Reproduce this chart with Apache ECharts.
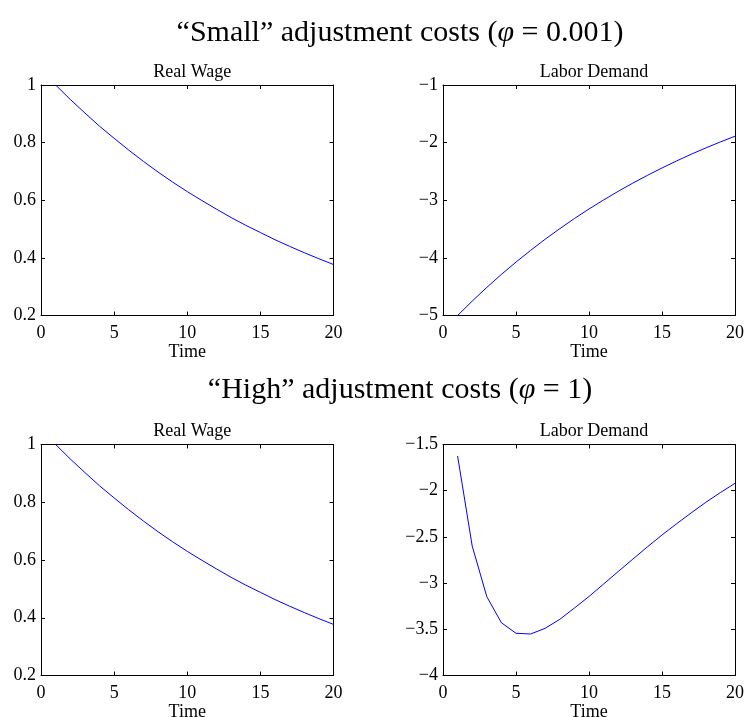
<!DOCTYPE html>
<html>
<head>
<meta charset="utf-8">
<script src="https://cdn.jsdelivr.net/npm/echarts@6/dist/echarts.min.js"></script>
<style>
  html, body { margin: 0; padding: 0; background: #fff; }
  #chart { width: 746px; height: 717px; }
</style>
</head>
<body>
<div id="chart"></div>
<script>
// Impulse responses over 20 periods
const time = [1,2,3,4,5,6,7,8,9,10,11,12,13,14,15,16,17,18,19,20];

// "Small" adjustment costs
const wageSmall = [1.000,0.950,0.903,0.857,0.815,0.774,0.735,0.698,0.663,0.630,
                   0.599,0.569,0.540,0.513,0.488,0.463,0.440,0.418,0.397,0.377];
const laborSmall = [-5.000,-4.750,-4.513,-4.287,-4.073,-3.870,-3.676,-3.493,-3.318,-3.152,
                    -2.995,-2.845,-2.703,-2.568,-2.440,-2.318,-2.202,-2.092,-1.988,-1.889];

// "High" adjustment costs
const wageHigh = [1.000,0.950,0.903,0.857,0.815,0.774,0.735,0.698,0.663,0.630,
                  0.599,0.569,0.540,0.513,0.488,0.463,0.440,0.418,0.397,0.377];
const laborHigh = [-1.624,-2.598,-3.147,-3.429,-3.543,-3.551,-3.489,-3.392,-3.270,-3.145,
                   -3.010,-2.875,-2.741,-2.608,-2.479,-2.358,-2.240,-2.126,-2.020,-1.920];

const xTicks = [0, 20, 5];            // min, max, interval
const panelTitles = ['Real Wage', 'Labor Demand'];
const rowTitles = ['\u201cSmall\u201d adjustment costs (', '\u201cHigh\u201d adjustment costs ('];
const rowParams = ['= 0.001)', '= 1)'];

const SERIF = '"Liberation Serif", "Times New Roman", serif';

const gridBoxes = [
  { left: 41,  top: 85,    width: 292.5, height: 230.5 },
  { left: 443, top: 85,    width: 292,   height: 230.5 },
  { left: 41,  top: 444.5, width: 292.5, height: 231 },
  { left: 443, top: 444.5, width: 292,   height: 231 }
];
const grids = gridBoxes.map(b => Object.assign({ containLabel: false, outerBoundsMode: 'none' }, b));
const yRanges = [
  { min: 0.2, max: 1,    interval: 0.2 },
  { min: -5,  max: -1,   interval: 1 },
  { min: 0.2, max: 1,    interval: 0.2 },
  { min: -4,  max: -1.5, interval: 0.5 }
];
const seriesValues = [wageSmall, laborSmall, wageHigh, laborHigh];

const minusFmt = v => {
  let s = String(Math.round(v * 1000) / 1000);
  return s.replace('-', '\u2212');
};

const xAxes = [], yAxes = [], series = [];
gridBoxes.forEach((g, i) => {
  const common = {
    gridIndex: i, type: 'value', min: xTicks[0], max: xTicks[1], interval: xTicks[2],
    axisLine: { show: true, onZero: false, lineStyle: { color: '#000', width: 1 } },
    axisTick: { show: true, inside: true, length: 4, lineStyle: { color: '#000' } },
    splitLine: { show: false }
  };
  xAxes.push(Object.assign({}, common, {
    position: 'bottom',
    name: 'Time', nameLocation: 'middle', nameGap: 27,
    nameTextStyle: { fontFamily: SERIF, fontSize: 18, color: '#000' },
    axisLabel: { fontFamily: SERIF, fontSize: 18, color: '#000', margin: 9, formatter: minusFmt }
  }));
  xAxes.push(Object.assign({}, common, { position: 'top', axisLabel: { show: false } }));
  const yc = {
    gridIndex: i, type: 'value', min: yRanges[i].min, max: yRanges[i].max, interval: yRanges[i].interval,
    axisLine: { show: true, onZero: false, lineStyle: { color: '#000', width: 1 } },
    axisTick: { show: true, inside: true, length: 4, lineStyle: { color: '#000' } },
    splitLine: { show: false }
  };
  yAxes.push(Object.assign({}, yc, {
    position: 'left',
    axisLabel: { fontFamily: SERIF, fontSize: 18, color: '#000', margin: 5, formatter: minusFmt }
  }));
  yAxes.push(Object.assign({}, yc, { position: 'right', axisLabel: { show: false } }));
  series.push({
    type: 'line', xAxisIndex: 2 * i, yAxisIndex: 2 * i,
    data: time.map((t, k) => [t, seriesValues[i][k]]),
    showSymbol: false, symbol: 'none', silent: true,
    lineStyle: { color: '#0000ff', width: 1 }
  });
});

const titles = [];
[28, 385].forEach((y, r) => {
  titles.push({
    text: '{n|' + rowTitles[r] + '}{p|\u03c6}{n| ' + rowParams[r] + '}',
    left: 395, top: y, textAlign: 'center', textVerticalAlign: 'middle',
    textStyle: {
      fontWeight: 'normal',
      rich: {
        n: { fontFamily: SERIF, fontSize: 30, fontWeight: 'normal', color: '#000' },
        p: { fontFamily: SERIF, fontSize: 30, fontWeight: 'normal', fontStyle: 'italic', color: '#000' }
      }
    }
  });
});
gridBoxes.forEach((g, i) => {
  titles.push({
    text: panelTitles[i % 2],
    left: g.left + g.width / 2, top: g.top - 18, textAlign: 'center', textVerticalAlign: 'middle',
    textStyle: { fontFamily: SERIF, fontSize: 18, fontWeight: 'normal', color: '#000' }
  });
});

const chart = echarts.init(document.getElementById('chart'), null, { renderer: 'canvas' });
chart.setOption({
  animation: false,
  backgroundColor: '#fff',
  title: titles,
  grid: grids,
  xAxis: xAxes,
  yAxis: yAxes,
  series: series
});
</script>
</body>
</html>
